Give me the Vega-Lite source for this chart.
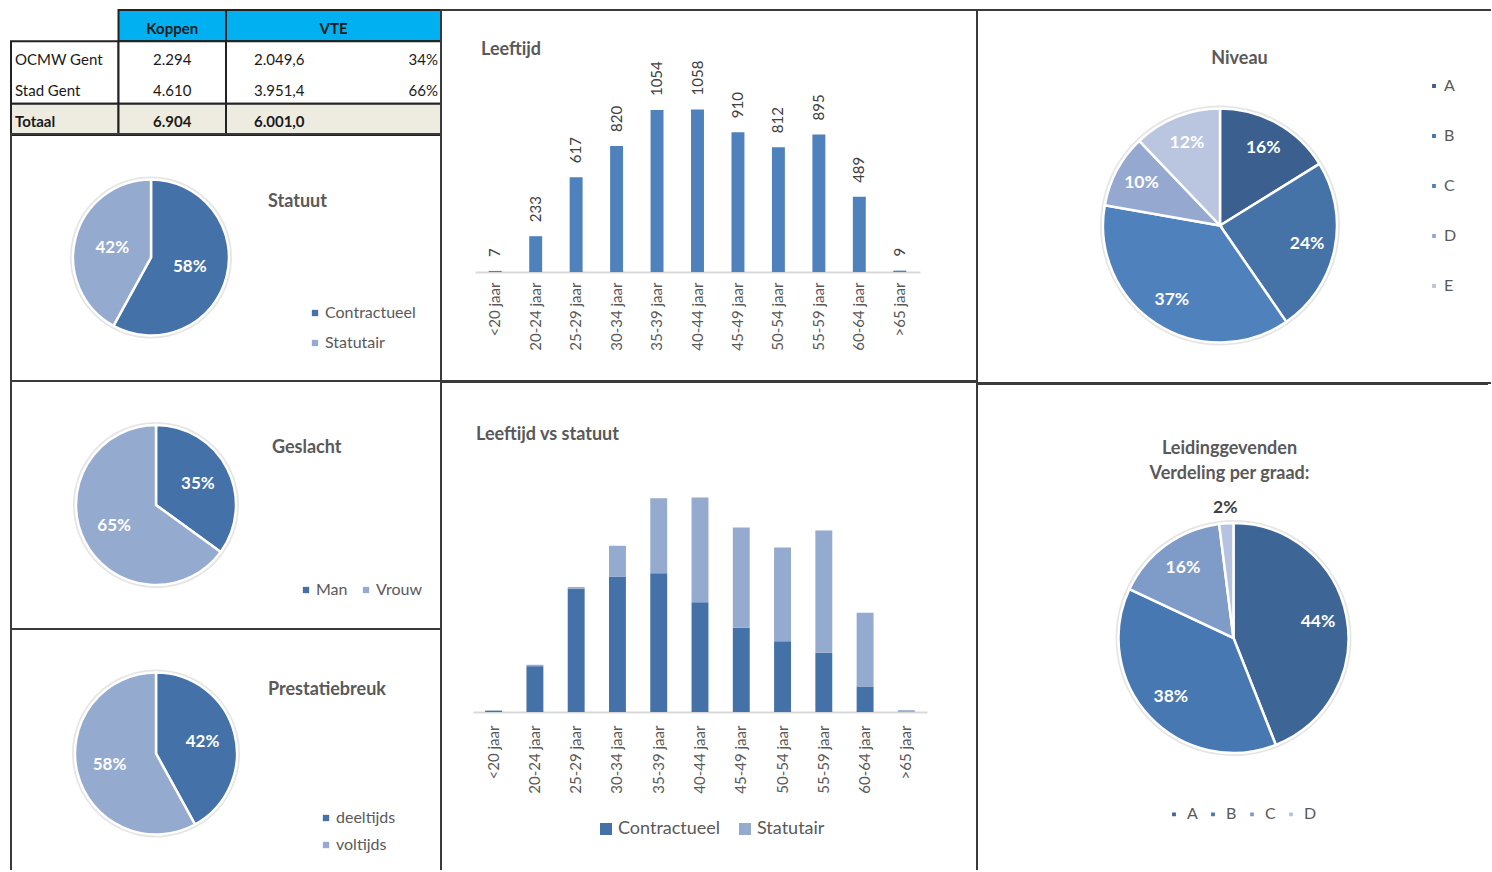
{
  "$schema": "https://vega.github.io/schema/vega-lite/v6.json",
  "background": "white",
  "padding": {"left": 9, "top": 8, "right": 0, "bottom": 0},
  "config": {
    "font": "Lato",
    "view": {"stroke": null},
    "title": {"color": "#595959", "fontSize": 18, "fontWeight": "bold", "frame": "group", "baseline": "middle"},
    "legend": {"symbolType": "square", "labelColor": "#595959", "labelFontSize": 16, "padding": 0, "symbolStrokeWidth": 0, "labelOffset": 2, "symbolSize": 40, "symbolOpacity": 1, "orient": "none"},
    "arc": {"stroke": "white", "strokeWidth": 2.5}
  },
  "datasets": {
    "tableBlocks": [
      {"col_from": "Koppen", "col_to": "Koppen", "row_from": "hdr", "row_to": "hdr", "part": "header"},
      {"col_from": "VTE", "col_to": "pct", "row_from": "hdr", "row_to": "hdr", "part": "header"},
      {"col_from": "label", "col_to": "label", "row_from": "OCMW Gent", "row_to": "Stad Gent", "part": "body"},
      {"col_from": "Koppen", "col_to": "Koppen", "row_from": "OCMW Gent", "row_to": "Stad Gent", "part": "body"},
      {"col_from": "VTE", "col_to": "pct", "row_from": "OCMW Gent", "row_to": "Stad Gent", "part": "body"},
      {"col_from": "label", "col_to": "label", "row_from": "Totaal", "row_to": "Totaal", "part": "total"},
      {"col_from": "Koppen", "col_to": "Koppen", "row_from": "Totaal", "row_to": "Totaal", "part": "total"},
      {"col_from": "VTE", "col_to": "pct", "row_from": "Totaal", "row_to": "Totaal", "part": "total"}
    ],
    "tableText": [
      {"row": "hdr", "col": "Koppen", "text": "Koppen"},
      {"row": "hdr", "col": "VTE", "text": "VTE"},
      {"row": "OCMW Gent", "col": "label", "text": "OCMW Gent"},
      {"row": "OCMW Gent", "col": "Koppen", "text": "2.294"},
      {"row": "OCMW Gent", "col": "VTE", "text": "2.049,6"},
      {"row": "OCMW Gent", "col": "pct", "text": "34%"},
      {"row": "Stad Gent", "col": "label", "text": "Stad Gent"},
      {"row": "Stad Gent", "col": "Koppen", "text": "4.610"},
      {"row": "Stad Gent", "col": "VTE", "text": "3.951,4"},
      {"row": "Stad Gent", "col": "pct", "text": "66%"},
      {"row": "Totaal", "col": "label", "text": "Totaal"},
      {"row": "Totaal", "col": "Koppen", "text": "6.904"},
      {"row": "Totaal", "col": "VTE", "text": "6.001,0"}
    ],
    "statuut": [{"cat": "Contractueel", "pct": 0.58}, {"cat": "Statutair", "pct": 0.42}],
    "geslacht": [{"cat": "Man", "pct": 0.35}, {"cat": "Vrouw", "pct": 0.65}],
    "prestatie": [{"cat": "deeltijds", "pct": 0.42}, {"cat": "voltijds", "pct": 0.58}],
    "niveau": [{"cat": "A", "pct": 0.16}, {"cat": "B", "pct": 0.24}, {"cat": "C", "pct": 0.37}, {"cat": "D", "pct": 0.10}, {"cat": "E", "pct": 0.12}],
    "leiding": [{"cat": "A", "pct": 0.44}, {"cat": "B", "pct": 0.38}, {"cat": "C", "pct": 0.16}, {"cat": "D", "pct": 0.02}],
    "leeftijd": [
      {"leeftijd": "<20 jaar", "n": 7}, {"leeftijd": "20-24 jaar", "n": 233}, {"leeftijd": "25-29 jaar", "n": 617},
      {"leeftijd": "30-34 jaar", "n": 820}, {"leeftijd": "35-39 jaar", "n": 1054}, {"leeftijd": "40-44 jaar", "n": 1058},
      {"leeftijd": "45-49 jaar", "n": 910}, {"leeftijd": "50-54 jaar", "n": 812}, {"leeftijd": "55-59 jaar", "n": 895},
      {"leeftijd": "60-64 jaar", "n": 489}, {"leeftijd": ">65 jaar", "n": 9}
    ],
    "lvs": [
      {"leeftijd": "<20 jaar", "statuut": "Contractueel", "n": 7}, {"leeftijd": "<20 jaar", "statuut": "Statutair", "n": 0},
      {"leeftijd": "20-24 jaar", "statuut": "Contractueel", "n": 226}, {"leeftijd": "20-24 jaar", "statuut": "Statutair", "n": 7},
      {"leeftijd": "25-29 jaar", "statuut": "Contractueel", "n": 608}, {"leeftijd": "25-29 jaar", "statuut": "Statutair", "n": 9},
      {"leeftijd": "30-34 jaar", "statuut": "Contractueel", "n": 669}, {"leeftijd": "30-34 jaar", "statuut": "Statutair", "n": 151},
      {"leeftijd": "35-39 jaar", "statuut": "Contractueel", "n": 685}, {"leeftijd": "35-39 jaar", "statuut": "Statutair", "n": 369},
      {"leeftijd": "40-44 jaar", "statuut": "Contractueel", "n": 541}, {"leeftijd": "40-44 jaar", "statuut": "Statutair", "n": 517},
      {"leeftijd": "45-49 jaar", "statuut": "Contractueel", "n": 415}, {"leeftijd": "45-49 jaar", "statuut": "Statutair", "n": 495},
      {"leeftijd": "50-54 jaar", "statuut": "Contractueel", "n": 349}, {"leeftijd": "50-54 jaar", "statuut": "Statutair", "n": 463},
      {"leeftijd": "55-59 jaar", "statuut": "Contractueel", "n": 292}, {"leeftijd": "55-59 jaar", "statuut": "Statutair", "n": 603},
      {"leeftijd": "60-64 jaar", "statuut": "Contractueel", "n": 126}, {"leeftijd": "60-64 jaar", "statuut": "Statutair", "n": 363},
      {"leeftijd": ">65 jaar", "statuut": "Contractueel", "n": 2}, {"leeftijd": ">65 jaar", "statuut": "Statutair", "n": 7}
    ]
  },
  "columns": 3,
  "align": "none",
  "spacing": -4,
  "resolve": {"scale": {"color": "independent", "theta": "independent", "x": "independent", "y": "independent"}, "legend": {"color": "independent"}},
  "concat": [
    {
      "columns": 1,
      "align": "none",
      "spacing": -4,
      "resolve": {"scale": {"color": "independent", "theta": "independent", "x": "independent", "y": "independent"}, "legend": {"color": "independent"}},
      "concat": [
        {
          "width": 430, "height": 125,
          "layer": [
            {
              "data": {"name": "tableBlocks"},
              "mark": {"type": "rect", "stroke": "#222", "strokeWidth": 2},
              "encoding": {
                "x": {"field": "col_from", "type": "nominal", "bandPosition": 0, "scale": {"type": "band", "domain": ["label", "Koppen", "VTE", "pct"], "paddingInner": 0, "paddingOuter": 0}, "axis": null},
                "x2": {"field": "col_to", "bandPosition": 1},
                "y": {"field": "row_from", "type": "nominal", "bandPosition": 0, "scale": {"type": "band", "domain": ["hdr", "OCMW Gent", "Stad Gent", "Totaal"], "paddingInner": 0, "paddingOuter": 0}, "axis": null},
                "y2": {"field": "row_to", "bandPosition": 1},
                "color": {"field": "part", "type": "nominal", "scale": {"domain": ["header", "body", "total"], "range": ["#00B0F0", "#FFFFFF", "#EEECE1"]}, "legend": null}
              }
            },
            {
              "data": {"name": "tableText"},
              "transform": [{"filter": "datum.col == 'label' && datum.row != 'hdr' && datum.row != 'Totaal'"}],
              "mark": {"type": "text", "align": "left", "dx": 4, "dy": 3, "fontSize": 15, "color": "#1a1a1a"},
              "encoding": {"x": {"field": "col", "type": "nominal", "bandPosition": 0}, "y": {"field": "row", "type": "nominal"}, "text": {"field": "text", "type": "nominal"}}
            },
            {
              "data": {"name": "tableText"},
              "transform": [{"filter": "datum.col == 'Koppen' && datum.row != 'hdr' && datum.row != 'Totaal'"}],
              "mark": {"type": "text", "align": "center", "dy": 3, "fontSize": 15, "color": "#1a1a1a"},
              "encoding": {"x": {"field": "col", "type": "nominal"}, "y": {"field": "row", "type": "nominal"}, "text": {"field": "text", "type": "nominal"}}
            },
            {
              "data": {"name": "tableText"},
              "transform": [{"filter": "datum.col == 'VTE' && datum.row != 'hdr' && datum.row != 'Totaal'"}],
              "mark": {"type": "text", "align": "left", "dx": 28, "dy": 3, "fontSize": 15, "color": "#1a1a1a"},
              "encoding": {"x": {"field": "col", "type": "nominal", "bandPosition": 0}, "y": {"field": "row", "type": "nominal"}, "text": {"field": "text", "type": "nominal"}}
            },
            {
              "data": {"name": "tableText"},
              "transform": [{"filter": "datum.col == 'pct'"}],
              "mark": {"type": "text", "align": "right", "dx": -3, "dy": 3, "fontSize": 15, "color": "#1a1a1a"},
              "encoding": {"x": {"field": "col", "type": "nominal", "bandPosition": 1}, "y": {"field": "row", "type": "nominal"}, "text": {"field": "text", "type": "nominal"}}
            },
            {
              "data": {"name": "tableText"},
              "transform": [{"filter": "datum.col == 'label' && datum.row == 'Totaal'"}],
              "mark": {"type": "text", "align": "left", "dx": 4, "dy": 3, "fontSize": 15, "fontWeight": "bold", "color": "#1a1a1a"},
              "encoding": {"x": {"field": "col", "type": "nominal", "bandPosition": 0}, "y": {"field": "row", "type": "nominal"}, "text": {"field": "text", "type": "nominal"}}
            },
            {
              "data": {"name": "tableText"},
              "transform": [{"filter": "datum.col == 'Koppen' && (datum.row == 'Totaal' || datum.row == 'hdr')"}],
              "mark": {"type": "text", "align": "center", "dy": 3, "fontSize": 15, "fontWeight": "bold", "color": "#1a1a1a"},
              "encoding": {"x": {"field": "col", "type": "nominal"}, "y": {"field": "row", "type": "nominal"}, "text": {"field": "text", "type": "nominal"}}
            },
            {
              "data": {"name": "tableText"},
              "transform": [{"filter": "datum.col == 'VTE' && datum.row == 'Totaal'"}],
              "mark": {"type": "text", "align": "left", "dx": 28, "dy": 3, "fontSize": 15, "fontWeight": "bold", "color": "#1a1a1a"},
              "encoding": {"x": {"field": "col", "type": "nominal", "bandPosition": 0}, "y": {"field": "row", "type": "nominal"}, "text": {"field": "text", "type": "nominal"}}
            },
            {
              "data": {"name": "tableText"},
              "transform": [{"filter": "datum.col == 'VTE' && datum.row == 'hdr'"}],
              "mark": {"type": "text", "align": "center", "dy": 3, "fontSize": 15, "fontWeight": "bold", "color": "#1a1a1a"},
              "encoding": {"x": {"field": "col", "type": "nominal", "bandPosition": 1}, "y": {"field": "row", "type": "nominal"}, "text": {"field": "text", "type": "nominal"}}
            }
          ]
        },
        {
          "columns": 3,
          "align": "none",
          "spacing": -4,
          "resolve": {"scale": {"color": "independent", "theta": "independent", "x": "independent", "y": "independent"}, "legend": {"color": "independent"}},
          "concat": [
            {"width": 30, "height": 247, "view": {"stroke": "#3a3a3a", "strokeWidth": 2, "strokeCap": "square", "strokeDash": [30, 247, 277, 10]}, "data": {"values": []}, "mark": {"type": "text"}, "encoding": {"text": {"value": ""}}},
            {
              "width": 220, "height": 247,
              "view": {"stroke": "#3a3a3a", "strokeWidth": 2, "strokeCap": "square", "strokeDash": [220, 247, 220, 257]},
              "data": {"name": "statuut"},
              "encoding": {
                "theta": {"field": "pct", "type": "quantitative", "stack": true},
                "order": {"field": "cat", "type": "nominal", "sort": "ascending"}
              },
              "layer": [
                {"mark": {"type": "arc", "outerRadius": 81, "color": "#000", "opacity": 0.1, "strokeWidth": 0}},
                {
                  "mark": {"type": "arc", "outerRadius": 78},
                  "encoding": {"color": {"field": "cat", "type": "nominal", "scale": {"domain": ["Contractueel", "Statutair"], "range": ["#4472A8", "#95AACF"]}, "legend": null}}
                },
                {
                  "mark": {"type": "text", "radius": 40, "color": "white", "fontWeight": "bold", "fontSize": 17},
                  "encoding": {"detail": {"field": "cat", "type": "nominal"}, "text": {"field": "pct", "type": "quantitative", "format": ".0%"}}
                }
              ]
            },
            {
              "width": 180, "height": 247,
              "view": {"stroke": "#3a3a3a", "strokeWidth": 2, "strokeCap": "square", "strokeDash": [607, 257]},
              "title": {"text": "Statuut", "anchor": "start", "dx": 7, "offset": -77},
              "data": {"name": "statuut"},
              "mark": {"type": "point", "shape": "square", "filled": true, "opacity": 0, "size": 4},
              "encoding": {"color": {"field": "cat", "type": "nominal", "scale": {"domain": ["Contractueel", "Statutair"], "range": ["#4472A8", "#95AACF"]}, "legend": {"title": null, "orient": "none", "legendX": 46, "legendY": 171, "rowPadding": 14}}}
            }
          ]
        },
        {
          "columns": 3,
          "align": "none",
          "spacing": -4,
          "resolve": {"scale": {"color": "independent", "theta": "independent", "x": "independent", "y": "independent"}, "legend": {"color": "independent"}},
          "concat": [
            {"width": 35, "height": 248, "view": {"stroke": "#3a3a3a", "strokeWidth": 2, "strokeCap": "square", "strokeDash": [35, 248, 283, 10]}, "data": {"values": []}, "mark": {"type": "text"}, "encoding": {"text": {"value": ""}}},
            {
              "width": 220, "height": 248,
              "view": {"stroke": "#3a3a3a", "strokeWidth": 2, "strokeCap": "square", "strokeDash": [220, 248, 220, 258]},
              "data": {"name": "geslacht"},
              "encoding": {
                "theta": {"field": "pct", "type": "quantitative", "stack": true},
                "order": {"field": "cat", "type": "nominal", "sort": "ascending"}
              },
              "layer": [
                {"mark": {"type": "arc", "outerRadius": 83, "color": "#000", "opacity": 0.1, "strokeWidth": 0}},
                {
                  "mark": {"type": "arc", "outerRadius": 80},
                  "encoding": {"color": {"field": "cat", "type": "nominal", "scale": {"domain": ["Man", "Vrouw"], "range": ["#4472A8", "#95AACF"]}, "legend": null}}
                },
                {
                  "mark": {"type": "text", "radius": 47, "color": "white", "fontWeight": "bold", "fontSize": 17},
                  "encoding": {"detail": {"field": "cat", "type": "nominal"}, "text": {"field": "pct", "type": "quantitative", "format": ".0%"}}
                }
              ]
            },
            {
              "width": 175, "height": 248,
              "view": {"stroke": "#3a3a3a", "strokeWidth": 2, "strokeCap": "square", "strokeDash": [598, 258]},
              "title": {"text": "Geslacht", "anchor": "start", "dx": 6, "offset": -76},
              "data": {"name": "geslacht"},
              "mark": {"type": "point", "shape": "square", "filled": true, "opacity": 0, "size": 4},
              "encoding": {"color": {"field": "cat", "type": "nominal", "scale": {"domain": ["Man", "Vrouw"], "range": ["#4472A8", "#95AACF"]}, "legend": {"title": null, "orient": "none", "direction": "horizontal", "legendX": 32, "legendY": 201, "columnPadding": 10}}}
            }
          ]
        },
        {
          "columns": 3,
          "align": "none",
          "spacing": -4,
          "resolve": {"scale": {"color": "independent", "theta": "independent", "x": "independent", "y": "independent"}, "legend": {"color": "independent"}},
          "concat": [
            {"width": 35, "height": 240, "view": {"stroke": "#3a3a3a", "strokeWidth": 2, "strokeCap": "square", "strokeDash": [35, 275, 240, 10]}, "data": {"values": []}, "mark": {"type": "text"}, "encoding": {"text": {"value": ""}}},
            {
              "columns": 1,
              "align": "none",
              "spacing": -4,
              "concat": [
                {"width": 220, "height": 11, "view": {"stroke": "#3a3a3a", "strokeWidth": 2, "strokeCap": "square", "strokeDash": [220, 252]}, "data": {"values": []}, "mark": {"type": "text"}, "encoding": {"text": {"value": ""}}},
                {
                  "width": 220, "height": 229,
                  "view": {"stroke": "#3a3a3a", "strokeWidth": 2, "strokeDash": [0, 10000]},
                  "data": {"name": "prestatie"},
                  "encoding": {
                    "theta": {"field": "pct", "type": "quantitative", "stack": true},
                    "order": {"field": "cat", "type": "nominal", "sort": "ascending"}
                  },
                  "layer": [
                    {"mark": {"type": "arc", "outerRadius": 84, "color": "#000", "opacity": 0.1, "strokeWidth": 0}},
                    {
                      "mark": {"type": "arc", "outerRadius": 81},
                      "encoding": {"color": {"field": "cat", "type": "nominal", "scale": {"domain": ["deeltijds", "voltijds"], "range": ["#4472A8", "#95AACF"]}, "legend": null}}
                    },
                    {
                      "mark": {"type": "text", "radius": 48, "color": "white", "fontWeight": "bold", "fontSize": 17},
                      "encoding": {"detail": {"field": "cat", "type": "nominal"}, "text": {"field": "pct", "type": "quantitative", "format": ".0%"}}
                    }
                  ]
                }
              ]
            },
            {
              "width": 175, "height": 240,
              "view": {"stroke": "#3a3a3a", "strokeWidth": 2, "strokeCap": "square", "strokeDash": [415, 10000]},
              "title": {"text": "Prestatiebreuk", "anchor": "start", "dx": 2, "offset": -70},
              "data": {"name": "prestatie"},
              "mark": {"type": "point", "shape": "square", "filled": true, "opacity": 0, "size": 4},
              "encoding": {"color": {"field": "cat", "type": "nominal", "scale": {"domain": ["deeltijds", "voltijds"], "range": ["#4472A8", "#95AACF"]}, "legend": {"title": null, "orient": "none", "legendX": 52, "legendY": 181, "rowPadding": 11}}}
            }
          ]
        }
      ]
    },
    {
      "columns": 1,
      "align": "none",
      "spacing": -4,
      "resolve": {"scale": {"color": "independent", "theta": "independent", "x": "independent", "y": "independent"}, "legend": {"color": "independent"}},
      "concat": [
        {
          "width": 536, "height": 372,
          "view": {"stroke": "#3a3a3a", "strokeWidth": 2},
          "title": {"text": "Leeftijd", "anchor": "start", "dx": 40, "offset": -49},
          "data": {"name": "leeftijd"},
          "encoding": {
            "x": {"field": "leeftijd", "type": "nominal", "sort": null, "scale": {"range": [34, 479], "paddingInner": 0.68, "paddingOuter": 0.34},
                  "axis": {"orient": "bottom", "offset": -110, "domainColor": "#D9D9D9", "domainWidth": 2, "ticks": false, "labelAngle": -90, "labelPadding": 10, "labelFontSize": 15, "labelColor": "#595959", "title": null}},
            "y": {"field": "n", "type": "quantitative", "scale": {"domain": [0, 1100], "range": [262, 93]}, "axis": null}
          },
          "layer": [
            {"mark": {"type": "bar", "color": "#4F81BD"}},
            {"mark": {"type": "text", "angle": 270, "align": "left", "baseline": "middle", "dx": 14, "fontSize": 15, "color": "#404040"},
             "encoding": {"text": {"field": "n", "type": "quantitative"}}}
          ]
        },
        {
          "width": 536, "height": 488,
          "view": {"stroke": "#3a3a3a", "strokeWidth": 2, "strokeCap": "square", "strokeDash": [1024, 536, 488, 10]},
          "title": {"text": "Leeftijd vs statuut", "anchor": "start", "dx": 35, "offset": -63},
          "data": {"name": "lvs"},
          "mark": {"type": "bar"},
          "encoding": {
            "x": {"field": "leeftijd", "type": "nominal", "sort": ["<20 jaar", "20-24 jaar", "25-29 jaar", "30-34 jaar", "35-39 jaar", "40-44 jaar", "45-49 jaar", "50-54 jaar", "55-59 jaar", "60-64 jaar", ">65 jaar"],
                  "scale": {"range": [32, 486], "paddingInner": 0.59, "paddingOuter": 0.295},
                  "axis": {"orient": "bottom", "offset": -157, "domainColor": "#D9D9D9", "domainWidth": 2, "ticks": false, "labelAngle": -90, "labelPadding": 13, "labelFontSize": 15, "labelColor": "#595959", "title": null}},
            "y": {"field": "n", "type": "quantitative", "stack": true, "scale": {"domain": [0, 1100], "range": [331, 108]}, "axis": null},
            "color": {"field": "statuut", "type": "nominal", "scale": {"domain": ["Contractueel", "Statutair"], "range": ["#4472A8", "#95AACF"]},
                      "legend": {"title": null, "orient": "none", "direction": "horizontal", "legendX": 156, "legendY": 439, "symbolSize": 144, "labelFontSize": 18, "labelOffset": 3, "columnPadding": 15}},
            "order": {"field": "statuut", "type": "nominal", "sort": "ascending"}
          }
        }
      ]
    },
    {
      "columns": 1,
      "align": "none",
      "spacing": -4,
      "resolve": {"scale": {"color": "independent", "theta": "independent", "x": "independent", "y": "independent"}, "legend": {"color": "independent"}},
      "concat": [
        {
          "width": 513, "height": 55,
          "view": {"stroke": "#3a3a3a", "strokeWidth": 2, "strokeCap": "square", "strokeDash": [513, 568, 55, 10]},
          "title": {"text": "Niveau", "anchor": "middle", "dx": 6, "offset": -58},
          "data": {"values": []},
          "mark": {"type": "text"},
          "encoding": {"text": {"value": ""}}
        },
        {
          "columns": 2,
          "align": "none",
          "spacing": -4,
          "resolve": {"scale": {"color": "independent", "theta": "independent"}, "legend": {"color": "independent"}},
          "concat": [
            {
              "width": 486, "height": 317,
              "view": {"stroke": "#3a3a3a", "strokeWidth": 2, "strokeDash": [0, 803, 803, 10]},
              "data": {"name": "niveau"},
              "encoding": {
                "theta": {"field": "pct", "type": "quantitative", "stack": true},
                "order": {"field": "cat", "type": "nominal", "sort": "ascending"}
              },
              "layer": [
                {"mark": {"type": "arc", "outerRadius": 120, "color": "#000", "opacity": 0.1, "strokeWidth": 0}},
                {
                  "mark": {"type": "arc", "outerRadius": 117},
                  "encoding": {"color": {"field": "cat", "type": "nominal", "scale": {"domain": ["A", "B", "C", "D", "E"], "range": ["#3B5F8F", "#4573A8", "#4F81BD", "#95A9D0", "#BAC6DF"]}, "legend": {"title": null, "orient": "none", "legendX": 449, "legendY": 11, "rowPadding": 32}}}
                },
                {
                  "mark": {"type": "text", "radius": 89, "color": "white", "fontWeight": "bold", "fontSize": 17.5},
                  "encoding": {"detail": {"field": "cat", "type": "nominal"}, "text": {"field": "pct", "type": "quantitative", "format": ".0%"}}
                }
              ]
            },
            {
              "width": 27, "height": 317,
              "view": {"stroke": "#3a3a3a", "strokeWidth": 2, "strokeDash": [0, 344, 27, 330]},
              "data": {"values": []},
              "mark": {"type": "text"},
              "encoding": {"text": {"value": ""}}
            }
          ]
        },
        {
          "width": 513, "height": 24,
          "view": {"stroke": "#3a3a3a", "strokeWidth": 2, "strokeCap": "square", "strokeDash": [513, 537, 24, 10]},
          "data": {"values": []},
          "mark": {"type": "text"},
          "encoding": {"text": {"value": ""}}
        },
        {
          "width": 513, "height": 464,
          "view": {"stroke": "#3a3a3a", "strokeWidth": 2, "strokeDash": [0, 1490, 464, 10]},
          "title": {"text": ["Leidinggevenden", "Verdeling per graad:"], "anchor": "middle", "dx": -4, "offset": -77, "lineHeight": 25},
          "data": {"name": "leiding"},
          "encoding": {
            "theta": {"field": "pct", "type": "quantitative", "stack": true},
            "order": {"field": "cat", "type": "nominal", "sort": "ascending"}
          },
          "layer": [
            {"mark": {"type": "arc", "outerRadius": 118, "color": "#000", "opacity": 0.1, "strokeWidth": 0}},
            {
              "mark": {"type": "arc", "outerRadius": 115},
              "encoding": {"color": {"field": "cat", "type": "nominal", "scale": {"domain": ["A", "B", "C", "D"], "range": ["#3D6596", "#4878B1", "#7F9CC8", "#B5C3E0"]}, "legend": {"title": null, "orient": "none", "direction": "horizontal", "legendX": 189, "legendY": 400, "labelOffset": 5, "columnPadding": 6}}}
            },
            {
              "mark": {"type": "text", "radius": 86, "color": "white", "fontWeight": "bold", "fontSize": 17.5},
              "encoding": {"detail": {"field": "cat", "type": "nominal"}, "text": {"field": "pct", "type": "quantitative", "format": ".0%"}, "opacity": {"condition": {"test": "datum.cat == 'D'", "value": 0}, "value": 1}}
            },
            {
              "mark": {"type": "text", "radius": 130, "color": "#404040", "fontWeight": "bold", "fontSize": 17.5},
              "encoding": {"detail": {"field": "cat", "type": "nominal"}, "text": {"field": "pct", "type": "quantitative", "format": ".0%"}, "opacity": {"condition": {"test": "datum.cat == 'D'", "value": 1}, "value": 0}}
            }
          ]
        }
      ]
    }
  ]
}
